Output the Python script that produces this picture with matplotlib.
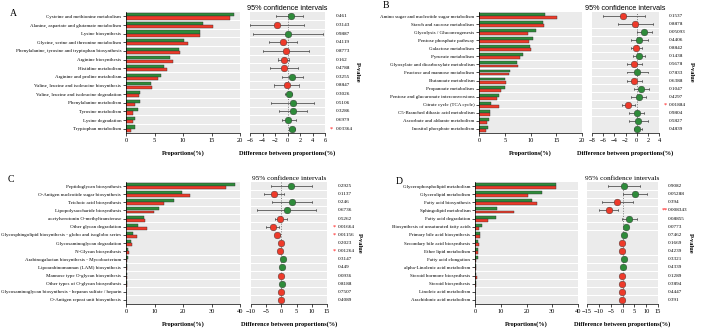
import numpy as np
import matplotlib
matplotlib.use("Agg")
import matplotlib.pyplot as plt

plt.rcParams['font.family'] = ['Liberation Serif', 'DejaVu Serif']

# ---- Panel A ----
a_paths = ["Cysteine and methionine metabolism", "Alanine, aspartate and glutamate metabolism",
           "Lysine biosynthesis", "Glycine, serine and threonine metabolism",
           "Phenylalanine, tyrosine and tryptophan biosynthesis", "Arginine biosynthesis",
           "Histidine metabolism", "Arginine and proline metabolism",
           "Valine, leucine and isoleucine biosynthesis", "Valine, leucine and isoleucine degradation",
           "Phenylalanine metabolism", "Tyrosine metabolism", "Lysine degradation",
           "Tryptophan metabolism"]
a_green = [18.9, 13.5, 12.9, 10.1, 9.3, 7.7, 6.6, 6.2, 4.4, 2.5, 2.5, 2.1, 1.5, 1.6]
a_red = [18.3, 15.2, 12.9, 10.8, 9.4, 8.2, 7.2, 5.6, 4.5, 2.2, 1.6, 1.3, 1.3, 0.9]
a_diff = [0.59, -1.7, 0.02, -0.75, -0.2, -0.6, -0.6, 0.64, -0.16, 0.2, 0.8, 0.8, 0.1, 0.64]
a_lo = [-1.8, -6.0, -5.5, -2.9, -3.9, -1.6, -2.8, -0.9, -2.1, -0.4, -2.7, -1.4, -0.9, 0.16]
a_hi = [2.45, 2.7, 5.7, 1.5, 3.4, 0.3, 1.6, 2.45, 1.9, 0.7, 4.3, 3.1, 1.3, 1.2]
a_p = ["0.461", "0.3143", "0.9887", "0.4119", "0.8773", "0.162", "0.4788", "0.3255",
       "0.8847", "0.3026", "0.5106", "0.3286", "0.6979", "0.03364"]

# ---- Panel B ----
b_paths = ["Amino sugar and nucleotide sugar metabolism", "Starch and sucrose metabolism",
           "Glycolysis / Gluconeogenesis", "Pentose phosphate pathway", "Galactose metabolism",
           "Pyruvate metabolism", "Glyoxylate and dicarboxylate metabolism",
           "Fructose and mannose metabolism", "Butanoate metabolism", "Propanoate metabolism",
           "Pentose and glucuronate interconversions", "Citrate cycle (TCA cycle)",
           "C5-Branched dibasic acid metabolism", "Ascorbate and aldarate metabolism",
           "Inositol phosphate metabolism"]
b_green = [12.8, 12.4, 11.1, 10.4, 9.9, 8.5, 7.3, 6.1, 5.0, 5.0, 3.8, 2.3, 2.1, 2.0, 1.7]
b_red = [15.1, 12.6, 9.6, 9.8, 10.0, 7.9, 7.6, 5.8, 5.3, 4.2, 3.5, 3.8, 2.1, 1.6, 1.4]
b_diff = [-2.36, -0.28, 1.38, 0.43, -0.16, 0.5, -0.4, 0.14, -0.4, 0.85, 0.37, -1.5, 0.02, 0.3, 0.14]
b_lo = [-6.1, -3.4, 0.0, -1.0, -1.1, -0.6, -1.8, -1.8, -1.7, -0.4, -1.0, -2.65, -1.35, -1.35, -0.45]
b_hi = [1.5, 2.9, 2.75, 2.0, 0.9, 1.5, 1.0, 2.0, 1.0, 2.2, 1.6, -0.28, 1.27, 2.0, 0.9]
b_p = ["0.1537", "0.8878", "0.05093", "0.4406", "0.8842", "0.1438", "0.5678", "0.7833",
       "0.6388", "0.1047", "0.4297", "0.01884", "0.9804", "0.5827", "0.4839"]

# ---- Panel C ----
c_paths = ["Peptidoglycan biosynthesis", "O-Antigen nucleotide sugar biosynthesis",
           "Teichoic acid biosynthesis", "Lipopolysaccharide biosynthesis",
           "acetylserotonin O-methyltransferase", "Other glycan degradation",
           "Glycosphingolipid biosynthesis - globo and isoglobo series",
           "Glycosaminoglycan degradation", "N-Glycan biosynthesis",
           "Arabinogalactan biosynthesis - Mycobacterium",
           "Lipoarabinomannan (LAM) biosynthesis", "Mannose type O-glycan biosynthesis",
           "Other types of O-glycan biosynthesis",
           "Glycosaminoglycan biosynthesis - heparan sulfate / heparin",
           "O-Antigen repeat unit biosynthesis"]
c_green = [38.3, 19.7, 16.7, 11.5, 6.4, 4.1, 2.4, 1.8, 0.6, 0.7, 0.45, 0.3, 0.2, 0.15, 0.1]
c_red = [35.0, 22.4, 13.4, 9.8, 6.8, 7.4, 3.8, 2.0, 0.9, 0.35, 0.35, 0.4, 0.2, 0.15, 0.15]
c_diff = [3.3, -2.5, 3.4, 1.9, -0.4, -2.9, -1.4, -0.1, -0.35, 0.4, 0.2, -0.05, 0.05, -0.02, -0.05]
c_lo = [-3.5, -5.6, -3.2, -7.9, -2.1, -5.2, -2.2, -0.5, -0.6, -0.1, -0.2, -0.3, -0.15, -0.2, -0.2]
c_hi = [10.2, 0.8, 10.2, 11.5, 1.7, -0.7, -0.4, 0.3, -0.1, 0.9, 0.6, 0.2, 0.25, 0.2, 0.1]
c_p = ["0.2925", "0.1137", "0.246", "0.6736", "0.5262", "0.01664", "0.01156", "0.2023",
       "0.01264", "0.3147", "0.449", "0.0936", "0.8188", "0.7507", "0.4089"]

# ---- Panel D ----
d_paths = ["Glycerophospholipid metabolism", "Glycerolipid metabolism", "Fatty acid biosynthesis",
           "Sphingolipid metabolism", "Fatty acid degradation",
           "Biosynthesis of unsaturated fatty acids", "Primary bile acid biosynthesis",
           "Secondary bile acid biosynthesis", "Ether lipid metabolism", "Fatty acid elongation",
           "alpha-Linolenic acid metabolism", "Steroid hormone biosynthesis",
           "Steroid biosynthesis", "Linoleic acid metabolism", "Arachidonic acid metabolism"]
d_green = [31.6, 26.0, 22.0, 8.4, 8.0, 2.7, 1.9, 1.2, 1.2, 1.0, 0.5, 0.4, 0.2, 0.15, 0.1]
d_red = [31.4, 20.5, 24.0, 15.0, 5.2, 1.5, 1.9, 1.7, 1.3, 0.4, 0.3, 0.7, 0.2, 0.1, 0.1]
d_diff = [0.6, 5.4, -2.2, -5.9, 2.9, 1.3, 0.5, -0.2, -0.1, 0.7, 0.4, -0.2, -0.05, -0.05, -0.05]
d_lo = [-6.2, 0.3, -8.7, -10.1, -0.2, 0.5, -0.2, -0.5, -0.4, 0.0, -0.1, -0.5, -0.2, -0.2, -0.2]
d_hi = [7.3, 10.5, 4.5, -2.0, 6.2, 2.4, 1.0, 0.1, 0.2, 1.6, 1.0, 0.1, 0.1, 0.1, 0.1]
d_p = ["0.9082", "0.05288", "0.394", "0.008343", "0.08855", "0.0773", "0.7462", "0.1669",
       "0.4239", "0.3321", "0.4339", "0.1289", "0.3894", "0.4447", "0.391"]

GREEN = '#2e8b3a'
RED = '#ee3a2a'
BAND = '#ebebeb'

fig = plt.figure(figsize=(7.11, 3.30), dpi=100)
W, H = 711.0, 330.0

def rect(x0, x1, ytop, ybot):
    return [x0 / W, 1 - ybot / H, (x1 - x0) / W, (ybot - ytop) / H]

panels = [
    ("A", a_paths, a_green, a_red, a_diff, a_lo, a_hi, a_p, 20, range(0, 21, 5), (-6, 6), range(-6, 7, 2),
     (126, 240), (250, 325), (12, 133), (10, 13), 'Liberation Sans'),
    ("B", b_paths, b_green, b_red, b_diff, b_lo, b_hi, b_p, 20, range(0, 21, 5), (-8, 4), range(-8, 5, 2),
     (479, 582), (592, 659), (12, 133), (383, 6), 'Liberation Sans'),
    ("C", c_paths, c_green, c_red, c_diff, c_lo, c_hi, c_p, 40, range(0, 41, 10), (-10, 15), range(-10, 16, 5),
     (126, 240), (251, 327), (182, 304), (8, 180), 'Liberation Serif'),
    ("D", d_paths, d_green, d_red, d_diff, d_lo, d_hi, d_p, 40, range(0, 41, 10), (-15, 15), range(-15, 16, 5),
     (475, 578), (587, 658), (182, 304), (396, 181), 'Liberation Serif'),
]

for (lab, paths, gr, rd, diff, lo, hi, pv, bmax, bticks, cilim, citicks,
     bx, cx, yy, labpos, titlefont) in panels:
    n = len(paths)
    y = np.arange(n)

    # bar chart
    ax = fig.add_axes(rect(bx[0], bx[1], yy[0], yy[1]))
    for i in y:
        ax.axhspan(i - 0.45, i + 0.45, color=BAND, lw=0, zorder=0)
    ax.barh(y - 0.19, gr, height=0.36, color=GREEN, edgecolor='#333333', lw=0.3, zorder=2)
    ax.barh(y + 0.19, rd, height=0.36, color=RED, edgecolor='#333333', lw=0.3, zorder=2)
    ax.set_ylim(n - 0.5, -0.5)
    ax.set_xlim(0, bmax)
    ax.set_xticks(list(bticks))
    ax.set_yticks(y)
    ax.set_yticklabels(paths, fontsize=3.6)
    ax.tick_params(axis='x', labelsize=4.6, length=2, width=0.5, pad=1.5)
    ax.tick_params(axis='y', length=2, width=0.5, pad=1.5)
    ax.spines['top'].set_visible(False)
    ax.spines['right'].set_visible(False)
    ax.spines['left'].set_linewidth(0.5)
    ax.spines['bottom'].set_linewidth(0.5)
    ax.set_xlabel("Proportions(%)", fontsize=4.6, fontweight='bold', labelpad=5)

    # confidence intervals
    cx_ax = fig.add_axes(rect(cx[0], cx[1], yy[0], yy[1]))
    for i in y:
        cx_ax.axhspan(i - 0.45, i + 0.45, color=BAND, lw=0, zorder=0)
    cx_ax.axvline(0, color='#777777', ls=':', lw=0.7, zorder=1)
    for i in y:
        col = GREEN if diff[i] > 0 else RED
        cx_ax.plot([lo[i], hi[i]], [i, i], color='#555555', lw=0.6, zorder=2)
        cx_ax.plot([lo[i], lo[i]], [i - 0.12, i + 0.12], color='#555555', lw=0.5, zorder=2)
        cx_ax.plot([hi[i], hi[i]], [i - 0.12, i + 0.12], color='#555555', lw=0.5, zorder=2)
        cx_ax.plot(diff[i], i, 'o', ms=4.8, color=col, mec='#333333', mew=0.3, zorder=3)
        p = float(pv[i])
        cx_ax.text(1.14, i, pv[i], transform=cx_ax.get_yaxis_transform(), fontsize=3.7,
                   va='center', ha='left')
        star = "**" if p < 0.01 else ("*" if p < 0.05 else "")
        if star:
            cx_ax.text(1.09, i, star, transform=cx_ax.get_yaxis_transform(), fontsize=4.5,
                       va='center', ha='center', color='red')
    cx_ax.set_ylim(n - 0.5, -0.5)
    cx_ax.set_xlim(*cilim)
    cx_ax.set_xticks(list(citicks))
    cx_ax.set_yticks([])
    cx_ax.tick_params(axis='x', labelsize=4.6, length=2, width=0.5, pad=1.5)
    for s in ['top', 'right', 'left']:
        cx_ax.spines[s].set_visible(False)
    cx_ax.spines['bottom'].set_linewidth(0.5)
    cx_ax.set_xlabel("Difference between proportions(%)", fontsize=4.6, fontweight='bold', labelpad=5)
    cx_ax.set_title("95% confidence intervals", fontsize=5.2, pad=1.5, family=titlefont)

    # p-value label and panel letter
    fig.text((cx[1] + 32) / W, 1 - (yy[0] + yy[1]) / 2 / H, "P-value", rotation=270,
             fontsize=4.6, fontweight='bold', ha='center', va='center')
    fig.text(labpos[0] / W, 1 - labpos[1] / H, lab, fontsize=7, ha='left', va='center')

fig.savefig("out.png", dpi=100)
